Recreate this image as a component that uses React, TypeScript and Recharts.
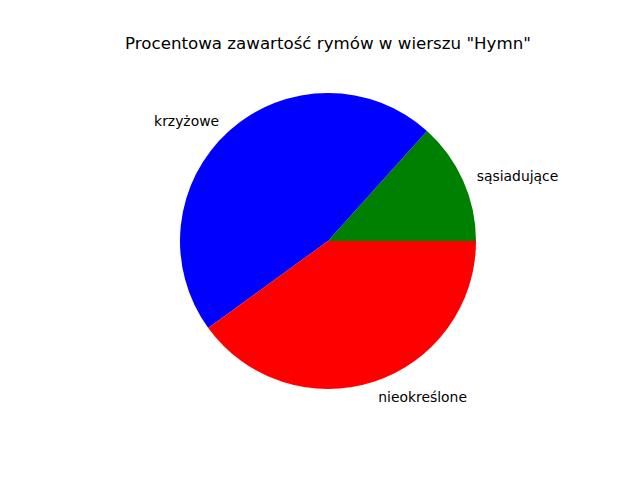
import React from "react";
import { PieChart, Pie, Cell } from "recharts";

const categories = ["sąsiadujące", "krzyżowe", "nieokreślone"];
const counts = [2, 7, 6];
const colors = ["#008000", "#0000ff", "#ff0000"];
const title = 'Procentowa zawartość rymów w wierszu "Hymn"';

const data = categories.map((name, i) => ({ name, value: counts[i] }));

const RAD = Math.PI / 180;

const renderLabel = (props: any) => {
  const { cx, cy, midAngle, outerRadius, name } = props;
  const r = outerRadius * 1.1;
  const x = cx + r * Math.cos(-midAngle * RAD);
  const y = cy + r * Math.sin(-midAngle * RAD);
  const c = Math.cos(-midAngle * RAD);
  return (
    <text
      x={x}
      y={y + 1}
      textAnchor={c >= 0 ? "start" : "end"}
      dominantBaseline="central"
      fill="#000"
      fontFamily="DejaVu Sans"
      fontSize={13.9}
    >
      {name}
    </text>
  );
};

export default function App() {
  return (
    <div style={{ position: "absolute", left: 0, top: 0, width: 640, height: 480, background: "#fff" }}>
      <div
        style={{
          position: "absolute",
          left: 0,
          top: 34,
          width: 656,
          textAlign: "center",
          fontFamily: "DejaVu Sans",
          fontSize: 16.67,
          lineHeight: "20px",
          color: "#000",
        }}
      >
        {title}
      </div>
      <PieChart width={640} height={480} margin={{ top: 0, right: 0, bottom: 0, left: 0 }}>
        <Pie
          data={data}
          dataKey="value"
          nameKey="name"
          cx={328}
          cy={241}
          outerRadius={148}
          innerRadius={0}
          startAngle={0}
          endAngle={360}
          stroke="none"
          labelLine={false}
          label={renderLabel}
          isAnimationActive={false}
        >
          {data.map((d, i) => (
            <Cell key={d.name} fill={colors[i]} />
          ))}
        </Pie>
      </PieChart>
    </div>
  );
}
